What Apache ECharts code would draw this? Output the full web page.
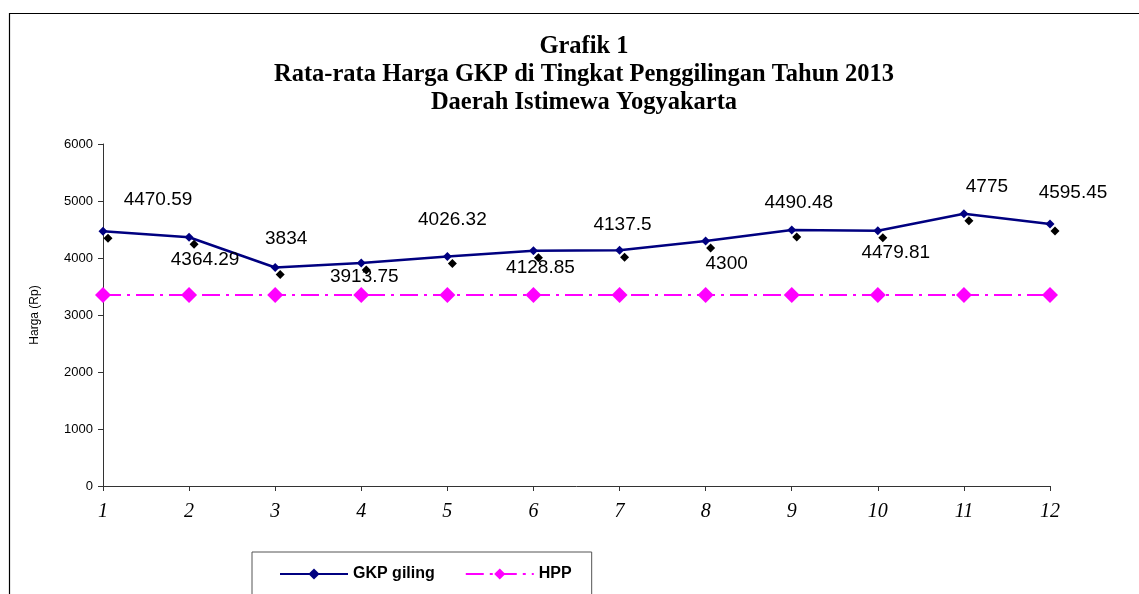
<!DOCTYPE html>
<html>
<head>
<meta charset="utf-8">
<script src="https://cdn.jsdelivr.net/npm/echarts@6/dist/echarts.min.js"></script>
<style>
  html, body { margin: 0; padding: 0; background: #fff; }
  #chart { width: 1139px; height: 594px; }
</style>
</head>
<body>
<div id="chart"></div>
<script>
// data
var bulan = ['1', '2', '3', '4', '5', '6', '7', '8', '9', '10', '11', '12'];
var gkpGiling = [4470.59, 4364.29, 3834, 3913.75, 4026.32, 4128.85, 4137.5, 4300, 4490.48, 4479.81, 4775, 4595.45];
var hpp = [3350, 3350, 3350, 3350, 3350, 3350, 3350, 3350, 3350, 3350, 3350, 3350];

// posisi label (geser dari titik)
var labelOffsets = [[55, -31], [16, 23], [11, -29], [3, 14], [5, -37], [7, 17], [3, -25], [21, 23], [7, -27], [18, 22], [23, -27], [23, -31]];

var gkpData = gkpGiling.map(function (v, i) {
    return {
        value: v,
        label: {offset: labelOffsets[i]}
    };
});

var myChart = echarts.init(document.getElementById('chart'));
myChart.setOption({
    backgroundColor: '#fff',
    animation: false,
    graphic: [{
        type: 'rect',
        shape: {x: 9.5, y: 13.5, width: 1300, height: 800},
        style: {fill: 'none', stroke: '#000', lineWidth: 1.2},
        silent: true
    }],
    title: {
        text: 'Grafik 1\nRata-rata Harga GKP di Tingkat Penggilingan Tahun 2013\nDaerah Istimewa Yogyakarta',
        left: 579,
        textAlign: 'center',
        top: 28,
        textStyle: {
            fontFamily: 'Liberation Serif',
            fontWeight: 'bold',
            fontSize: 24.5,
            lineHeight: 28,
            color: '#000'
        }
    },
    legend: {
        left: 252,
        top: 552,
        width: 339,
        itemGap: 30,
        padding: [14, 20, 30, 27],
        borderColor: '#555',
        borderWidth: 1,
        itemWidth: 68,
        itemHeight: 14,
        textStyle: {fontFamily: 'Liberation Sans', fontWeight: 'bold', fontSize: 16, color: '#000'},
        data: ['GKP giling', 'HPP']
    },
    grid: {left: 103, right: 89, top: 144, bottom: 108},
    xAxis: {
        type: 'category',
        boundaryGap: false,
        data: bulan,
        axisLine: {lineStyle: {color: '#333', width: 1}},
        axisTick: {alignWithLabel: true, length: 5, lineStyle: {color: '#333'}},
        axisLabel: {
            fontFamily: 'Liberation Serif',
            fontStyle: 'italic',
            fontSize: 20,
            color: '#000',
            margin: 16
        },
        splitLine: {show: false}
    },
    yAxis: {
        type: 'value',
        min: 0,
        max: 6000,
        interval: 1000,
        name: 'Harga (Rp)',
        nameLocation: 'middle',
        nameGap: 62,
        nameTextStyle: {fontFamily: 'Liberation Sans', fontSize: 12, color: '#000'},
        axisLine: {show: true, lineStyle: {color: '#333', width: 1}},
        axisTick: {show: true, length: 5, lineStyle: {color: '#333'}},
        axisLabel: {
            fontFamily: 'Liberation Sans',
            fontSize: 13,
            color: '#000',
            margin: 10,
            formatter: function (v) { return String(v); }
        },
        splitLine: {show: false}
    },
    series: [
        {
            name: 'GKP giling',
            type: 'line',
            data: gkpData,
            symbol: 'diamond',
            symbolSize: 9,
            lineStyle: {color: '#000080', width: 2.5},
            itemStyle: {
                color: '#000080',
                shadowColor: '#000',
                shadowBlur: 0,
                shadowOffsetX: 5,
                shadowOffsetY: 7
            },
            label: {
                show: true,
                position: 'inside',
                fontFamily: 'Liberation Sans',
                fontSize: 19,
                color: '#000'
            },
            z: 3
        },
        {
            name: 'HPP',
            type: 'line',
            data: hpp,
            symbol: 'diamond',
            symbolSize: 16,
            lineStyle: {color: '#ff00ff', width: 2, type: [18, 6, 3, 6]},
            itemStyle: {color: '#ff00ff'},
            z: 2
        }
    ]
});
</script>
</body>
</html>
